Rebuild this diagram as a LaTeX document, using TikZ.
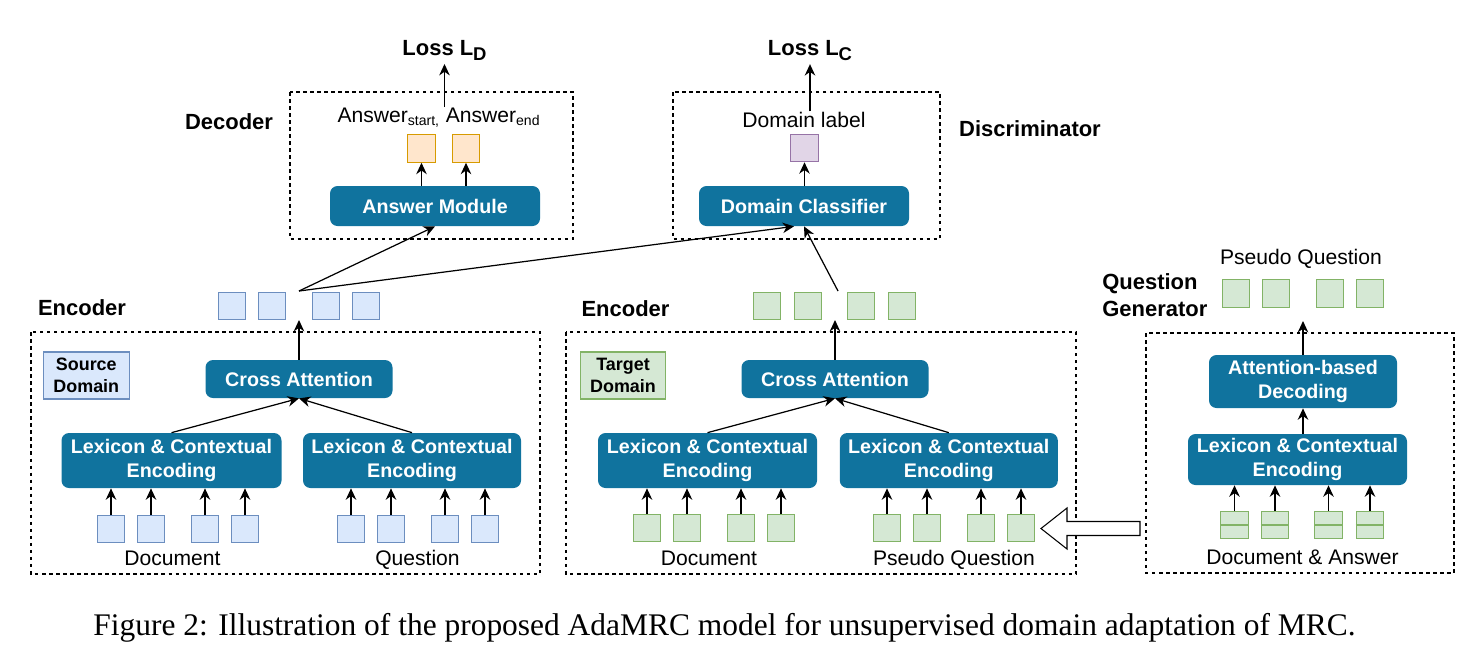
\documentclass[tikz,border=0pt]{standalone}
\usepackage{fontspec}
\setmainfont{Liberation Sans}
\newfontfamily\captionfont{Liberation Serif}
\usetikzlibrary{arrows.meta, positioning, shapes}
\definecolor{blockblue}{HTML}{10739E}
\definecolor{srcfill}{HTML}{DAE8FC}
\definecolor{srcline}{HTML}{6C8EBF}
\definecolor{tgtfill}{HTML}{D5E8D4}
\definecolor{tgtline}{HTML}{82B366}
\definecolor{ansfill}{HTML}{FFE6CC}
\definecolor{ansline}{HTML}{D79B00}
\definecolor{domfill}{HTML}{E1D5E7}
\definecolor{domline}{HTML}{9673A6}
\newcommand{\losssub}[1]{\raisebox{-3.2pt}{\fontsize{10.5}{12}\selectfont #1}}
\tikzset{
        >={Stealth[length=6.5pt,width=6pt]}, % arrow heads of all connectors
        link/.style={->, line width=0.7pt}, % directed edges
        frame/.style={draw, line width=0.6pt, dash pattern=on 2pt off 2pt}, % dashed module borders
    }
\tikzset{
      block/.style={
		fill=blockblue,
		text=white,
		rounded corners=0.15cm,
		align=center,
		inner sep=0pt,
		font=\fontsize{11.2}{13.8}\selectfont\bfseries,
		minimum width={#1*0.02cm},
		minimum height=0.8cm,
	  },
      tok/.style={
		draw=#1line,
		fill=#1fill,
		line width=0.6pt,
		minimum size=0.55cm,
		inner sep=0pt,
	  },
      tag/.style={
		draw=#1line,
		fill=#1fill,
		line width=0.6pt,
		align=center,
		inner sep=0pt,
		font=\fontsize{10.2}{12.3}\selectfont\bfseries,
		minimum width=1.71cm,
		minimum height=0.94cm,
	  },
  		title/.style={
    	anchor=base, inner sep=0pt, font=\fontsize{12.5}{15.3}\selectfont\bfseries,
      },
  		txt/.style={
    	anchor=base, inner sep=0pt, font=\fontsize{12}{14}\selectfont,
      }
  	}
\begin{document}
\begin{tikzpicture}[x=0.02cm, y=-0.02cm]
  \useasboundingbox (0,0) rectangle (1481,654);

  % decoder
  \draw[frame] (290,92) rectangle (573,239);
  \node[title] (decoder) at (229,129) {Decoder};
  \node[title] (lossD) at (444.5,55) {Loss L\losssub{D}};
  \node[block=210] (answer) at (435,206) {Answer Module};
  \node[tok=ans] (as) at (421.5,148.5) {};
  \node[tok=ans] (ae) at (466,148.5) {};
  \node[txt] (ansout) at (439,122) {Answer\textsubscript{start,} Answer\textsubscript{end}};
  \draw[link] (answer.north -| as) -- (as);
  \draw[link] (answer.north -| ae) -- (ae);
  \draw[link] (ansout.north -| lossD) -- ([yshift=-0.06cm]lossD.south);

  % discriminator
  \draw[frame] (673,92) rectangle (940,239);
  \node[title] (disc) at (1030,136) {Discriminator};
  \node[title] (lossC) at (810,55) {Loss L\losssub{C}};
  \node[block=210] (domcls) at (804,206) {Domain Classifier};
  \node[tok=dom] (dl) at (804.5,148) {};
  \node[txt] (domlabel) at (804,127) {Domain label};
  \draw[link] (domcls.north -| dl) -- (dl);
  \draw[link] (domlabel.north -| lossC) -- ([yshift=-0.06cm]lossC.south);

  % source encoder
  \draw[frame] (31,332) rectangle (540,574);
  \node[title] (encS) at (82,315) {Encoder};
  \node[tag=src] (srctag) at (86.3,375.5) {Source\\Domain};
  \node[block=187, minimum height=0.76cm] (caS) at (299,379) {Cross Attention};
  \foreach \x [count=\i] in {232,272,326,366}
    \node[tok=src] (eS\i) at (\x,306) {};
  \coordinate (eSin) at (299,320);
  \coordinate (eSout) at (299,291);
  \draw[link] (caS) -- (eSin);
  \draw[link] (eSout) -- (answer.south);
  \draw[link] (eSout) -- ([xshift=-0.2cm]domcls.south);
  \node[block=220, minimum height=1.1cm] (lexSD) at (171.5,460.5) {Lexicon \& Contextual\\Encoding};
  \node[block=218, minimum height=1.1cm] (lexSQ) at (412,460.5) {Lexicon \& Contextual\\Encoding};
  \draw[link] (lexSD.north) -- (caS.south);
  \draw[link] (lexSQ.north) -- (caS.south);
  \foreach \x [count=\i] in {111,151,205,245} {
    \node[tok=src] (dS\i) at (\x,529) {};
    \draw[link] (dS\i) -- (dS\i |- lexSD.south);
  }
  \foreach \x [count=\i] in {351,391,445,485} {
    \node[tok=src] (qS\i) at (\x,529) {};
    \draw[link] (qS\i) -- (qS\i |- lexSQ.south);
  }
  \node[txt] (docS) at (172.5,565) {Document};
  \node[txt] (queS) at (417.5,565) {Question};

  % target encoder
  \draw[frame] (566,332) rectangle (1076,574);
  \node[title] (encT) at (625.5,316) {Encoder};
  \node[tag=tgt] (tgttag) at (623,375.5) {Target\\Domain};
  \node[block=187, minimum height=0.76cm] (caT) at (835,379) {Cross Attention};
  \foreach \x [count=\i] in {767,808,861,902}
    \node[tok=tgt] (eT\i) at (\x,306) {};
  \coordinate (eTin) at (835,320);
  \coordinate (eTout) at (838,291);
  \draw[link] (caT) -- (eTin);
  \draw[link] (eTout) -- (domcls.south);
  \node[block=219, minimum height=1.1cm] (lexTD) at (707.5,460.5) {Lexicon \& Contextual\\Encoding};
  \node[block=218, minimum height=1.1cm] (lexTQ) at (948.8,460.5) {Lexicon \& Contextual\\Encoding};
  \draw[link] (lexTD.north) -- (caT.south);
  \draw[link] (lexTQ.north) -- (caT.south);
  \foreach \x [count=\i] in {647,687,741,781} {
    \node[tok=tgt] (dT\i) at (\x,528) {};
    \draw[link] (dT\i) -- (dT\i |- lexTD.south);
  }
  \foreach \x [count=\i] in {887,927,981,1021} {
    \node[tok=tgt] (qT\i) at (\x,528) {};
    \draw[link] (qT\i) -- (qT\i |- lexTQ.south);
  }
  \node[txt] (docT) at (709,565) {Document};
  \node[txt] (queT) at (954,565) {Pseudo Question};

  % question generator
  \draw[frame] (1146,333) rectangle (1454,573);
  \node[title, anchor=west, align=left] (qgen) at (1102,295) {Question\\Generator};
  \node[txt] (pq) at (1301,264) {Pseudo Question};
  \foreach \x [count=\i] in {1236,1276,1330,1370}
    \node[tok=tgt] (pq\i) at (\x,293.5) {};
  \node[block=188, minimum height=1.06cm] (attdec) at (1303,381.5) {Attention-based\\Decoding};
  \node[block=219, minimum height=1.02cm] (lexQ) at (1297.5,459.5) {Lexicon \& Contextual\\Encoding};
  \coordinate (gout) at (1303,321);
  \draw[link] (attdec) -- (gout);
  \draw[link] (lexQ.north -| attdec) -- (attdec);
  \foreach \x [count=\i] in {1234.5,1275,1328.5,1370} {
    \node[tok=tgt] (da\i) at (\x,525) {};
    \draw[tgtline, line width=0.6pt] (da\i.west) -- (da\i.east);
    \draw[link] (da\i) -- (da\i |- lexQ.south);
  }
  \node[txt] (docans) at (1302.5,564) {Document \& Answer};

  % hollow arrow from the generator into the pseudo question
  \draw[fill=white, line width=0.6pt] (1140,521.5) -- (1067,521.5) -- (1067,508) -- (1041,528.5)
    -- (1067,549) -- (1067,535.5) -- (1140,535.5) -- cycle;

  \node[anchor=base, inner sep=0pt, font=\captionfont\fontsize{17.9}{21}\selectfont] (caption) at (724.5,635)
    {Figure 2: Illustration of the proposed AdaMRC model for unsupervised domain adaptation of MRC.};
\end{tikzpicture}
\end{document}
